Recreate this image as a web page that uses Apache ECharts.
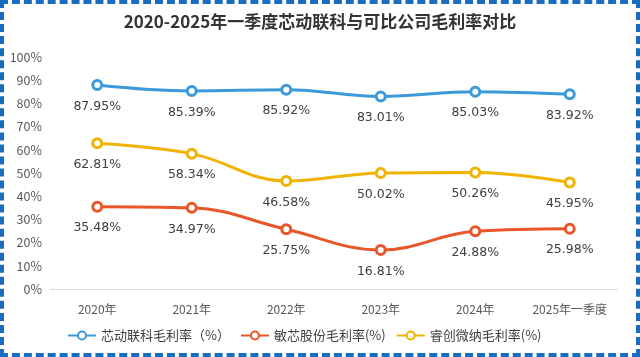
<!DOCTYPE html>
<html><head><meta charset="utf-8">
<script src="https://cdn.jsdelivr.net/npm/echarts@6/dist/echarts.min.js"></script>
<style>
html,body{margin:0;padding:0;background:#fff;}
#wrap{position:absolute;left:0;top:0;width:632px;height:349px;border:4px dashed #1a6cc0;}
#c{width:632px;height:349px;}
</style></head><body>
<div id="wrap"><div id="c"></div></div>
<script>
const categories = ['2020年','2021年','2022年','2023年','2024年','2025年一季度'];
const xindong = [87.95, 85.39, 85.92, 83.01, 85.03, 83.92];
const minxin = [35.48, 34.97, 25.75, 16.81, 24.88, 25.98];
const ruichuang = [62.81, 58.34, 46.58, 50.02, 50.26, 45.95];
const seriesNames = ['芯动联科毛利率（%）','敏芯股份毛利率(%)','睿创微纳毛利率(%)'];
const colors = ['#3d9ad8','#e8562a','#f0b400'];

const chart = echarts.init(document.getElementById('c'));
const font = '"Noto Sans CJK SC", "Noto Sans", sans-serif';
function mk(name, data, color){
  return {
    name, type:'line', data, smooth:0.4,
    symbol:'circle', symbolSize:9,
    lineStyle:{color, width:3},
    itemStyle:{color:'#fff', borderColor:color, borderWidth:3},
    label:{show:true, position:'bottom', distance:9, formatter:p=>p.value.toFixed(2)+'%', color:'#404040', fontSize:12.5, fontFamily:'"DejaVu Sans", sans-serif'}
  };
}
chart.setOption({
  animation:false,
  title:{text:'2020-2025年一季度芯动联科与可比公司毛利率对比', left:'center', top:4,
    textStyle:{fontSize:17, fontWeight:'bold', color:'#333', fontFamily:font}},
  legend:{bottom:6, left:58, itemWidth:28, itemHeight:10, itemGap:10,
    textStyle:{fontSize:13, color:'#404040', fontFamily:font},
    data:seriesNames},
  grid:{left:46, right:19, top:53, height:232},
  xAxis:{type:'category', data:categories, boundaryGap:true,
    axisLine:{lineStyle:{color:'#d9d9d9'}}, axisTick:{show:false},
    axisLabel:{color:'#595959', fontSize:12, margin:14, interval:0, fontFamily:font}},
  yAxis:{type:'value', min:0, max:100, interval:10,
    axisLine:{show:false}, axisTick:{show:false}, splitLine:{show:false},
    axisLabel:{formatter:'{value}%', color:'#595959', fontSize:12.5, fontFamily:font}},
  series:[mk(seriesNames[0], xindong, colors[0]), mk(seriesNames[1], minxin, colors[1]), mk(seriesNames[2], ruichuang, colors[2])]
});
</script></body></html>
